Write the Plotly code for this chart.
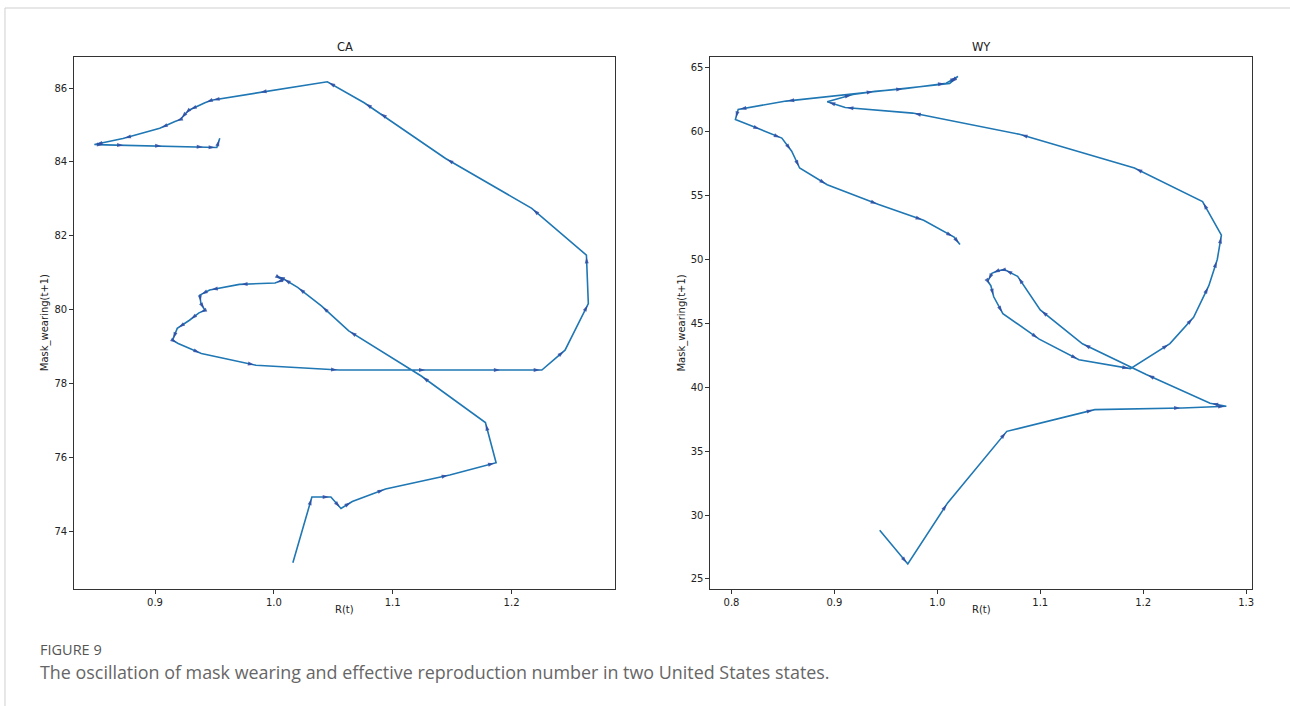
import plotly.graph_objects as go

# ---------------- data ----------------
CA_R = [1.016, 1.032, 1.048, 1.0565, 1.066, 1.094, 1.148, 1.187, 1.178, 1.124,
        1.063, 1.040, 1.020, 1.0076, 1.0025, 1.0076, 1.001, 0.971, 0.946, 0.9377,
        0.9386, 0.942, 0.937, 0.929, 0.9187, 0.9148, 0.9195, 0.939, 0.985, 1.055,
        1.129, 1.192, 1.2255, 1.245, 1.2646, 1.263, 1.217, 1.1445, 1.0886, 1.076,
        1.045, 0.987, 0.9475, 0.942, 0.9285, 0.9246, 0.9215, 0.9168, 0.904, 0.873,
        0.849, 0.858, 0.875, 0.907, 0.942, 0.952, 0.9545]
CA_MASK = [73.14, 74.92, 74.92, 74.61, 74.80, 75.14, 75.52, 75.85, 76.94, 78.20,
           79.42, 80.10, 80.60, 80.84, 80.90, 80.80, 80.72, 80.68, 80.53, 80.39,
           80.17, 79.98, 79.91, 79.71, 79.49, 79.17, 79.08, 78.81, 78.49, 78.36,
           78.36, 78.36, 78.36, 78.90, 80.16, 81.47, 82.74, 84.09, 85.34, 85.60,
           86.17, 85.88, 85.67, 85.60, 85.40, 85.27, 85.15, 85.09, 84.91, 84.63,
           84.47, 84.46, 84.45, 84.43, 84.40, 84.39, 84.64]

WY_R = [0.944, 0.9713, 1.010, 1.0675, 1.153, 1.238, 1.2808, 1.265, 1.203, 1.141,
        1.100, 1.078, 1.0652, 1.0587, 1.053, 1.049, 1.052, 1.0548, 1.0637, 1.099,
        1.1376, 1.1876, 1.226, 1.249, 1.2638, 1.272, 1.276, 1.2577, 1.1915, 1.0798,
        0.976, 0.9105, 0.893, 0.918, 0.9393, 0.968, 1.0086, 1.020, 1.012, 0.853,
        0.8065, 0.8038, 0.829, 0.8489, 0.8585, 0.8662, 0.893, 0.943, 0.9867, 1.0163,
        1.022]
WY_MASK = [28.80, 26.17, 30.95, 36.55, 38.25, 38.38, 38.51, 38.75, 41.00, 43.40,
           46.05, 48.68, 49.21, 49.12, 48.92, 48.30, 47.95, 47.08, 45.76, 43.77,
           42.16, 41.46, 43.42, 45.47, 47.95, 50.00, 51.90, 54.53, 57.16, 59.80,
           61.46, 61.90, 62.34, 62.92, 63.16, 63.36, 63.80, 64.33, 63.78, 62.40,
           61.75, 60.96, 60.15, 59.50, 58.48, 57.16, 55.85, 54.30, 53.07, 51.75,
           51.17]

CA_XTICKS = [0.9, 1.0, 1.1, 1.2]
CA_YTICKS = [74, 76, 78, 80, 82, 84, 86]
WY_XTICKS = [0.8, 0.9, 1.0, 1.1, 1.2, 1.3]
WY_YTICKS = [25, 30, 35, 40, 45, 50, 55, 60, 65]

TITLES = ["CA", "WY"]
XLABEL = "R(t)"
YLABEL = "Mask_wearing(t+1)"
CAP_HEAD = "FIGURE 9"
CAP_TEXT = ("The oscillation of mask wearing and effective reproduction number "
            "in two United States states.")

# ---------------- layout constants ----------------
W, H = 1290, 706
LINE_C = "#1f77b4"
ARROW_C = "#2f4ca3"
AX_C = "#333333"
FONT = "DejaVu Sans"


def px(x):
    return x / W


def py(y):
    return 1 - y / H


panels = [
    dict(r=CA_R, m=CA_MASK, xd=[74.3, 615.9], xr=[0.832, 1.287], yr=[72.43, 86.84],
         xt=CA_XTICKS, yt=CA_YTICKS, xa="x", ya="y"),
    dict(r=WY_R, m=WY_MASK, xd=[711.6, 1254.0], xr=[0.7796, 1.3058], yr=[24.21, 65.85],
         xt=WY_XTICKS, yt=WY_YTICKS, xa="x2", ya="y2"),
]
TOP, BOT = 57.0, 589.0

fig = go.Figure()
annotations = []
for i, p in enumerate(panels):
    sizes = [0] + [6.5] * (len(p["r"]) - 1)
    fig.add_trace(go.Scatter(
        x=p["r"], y=p["m"], mode="lines", xaxis=p["xa"], yaxis=p["ya"],
        line=dict(color=LINE_C, width=1.6), hoverinfo="skip", showlegend=False))
    fig.add_trace(go.Scatter(
        x=p["r"], y=p["m"], mode="markers", xaxis=p["xa"], yaxis=p["ya"],
        marker=dict(symbol="arrow", size=sizes, color=ARROW_C, angleref="previous",
                    standoff=2, opacity=0.85, line=dict(width=0)),
        hoverinfo="skip", showlegend=False))
    sfx = "" if i == 0 else "2"
    fig.layout["xaxis" + sfx] = dict(
        domain=[px(p["xd"][0]), px(p["xd"][1])], range=p["xr"], anchor="y" + sfx,
        tickvals=p["xt"], ticktext=[f"{v:.1f}" for v in p["xt"]],
        showline=True, mirror=True, linecolor=AX_C, linewidth=1,
        ticks="outside", ticklen=4, tickcolor=AX_C, tickwidth=1,
        showgrid=False, zeroline=False,
        tickfont=dict(family=FONT, size=10, color="#222"))
    fig.layout["yaxis" + sfx] = dict(
        domain=[py(BOT), py(TOP)], range=p["yr"], anchor="x" + sfx,
        tickvals=p["yt"], ticktext=[str(v) for v in p["yt"]],
        showline=True, mirror=True, linecolor=AX_C, linewidth=1,
        ticks="outside", ticklen=4, tickcolor=AX_C, tickwidth=1,
        showgrid=False, zeroline=False,
        tickfont=dict(family=FONT, size=10, color="#222"))
    cx = (p["xd"][0] + p["xd"][1]) / 2
    annotations.append(dict(text=TITLES[i], x=px(cx), y=py(47), xref="paper", yref="paper",
                            xanchor="center", yanchor="middle", showarrow=False,
                            font=dict(family=FONT, size=11.5, color="#222")))
    annotations.append(dict(text=XLABEL, x=px(cx), y=py(609), xref="paper", yref="paper",
                            xanchor="center", yanchor="middle", showarrow=False,
                            font=dict(family=FONT, size=10, color="#222")))
    annotations.append(dict(text=YLABEL, x=px(p["xd"][0] - 29), y=py((TOP + BOT) / 2),
                            xref="paper", yref="paper", textangle=-90,
                            xanchor="center", yanchor="middle", showarrow=False,
                            font=dict(family=FONT, size=10, color="#222")))

annotations.append(dict(text=CAP_HEAD, x=px(38), y=py(649), xref="paper", yref="paper",
                        xanchor="left", yanchor="middle", showarrow=False,
                        font=dict(family="Open Sans", size=14.5, color="#555555")))
annotations.append(dict(text=CAP_TEXT, x=px(38), y=py(672), xref="paper", yref="paper",
                        xanchor="left", yanchor="middle", showarrow=False,
                        font=dict(family="Open Sans", size=17.9, color="#666666")))

fig.update_layout(
    width=W, height=H, margin=dict(l=0, r=0, t=0, b=0),
    paper_bgcolor="white", plot_bgcolor="white",
    annotations=annotations,
    shapes=[dict(type="rect", xref="paper", yref="paper",
                 x0=px(5), y0=py(8), x1=1.02, y1=-0.02,
                 line=dict(color="#cfcfcf", width=1))],
)

fig.write_html("out.html")
